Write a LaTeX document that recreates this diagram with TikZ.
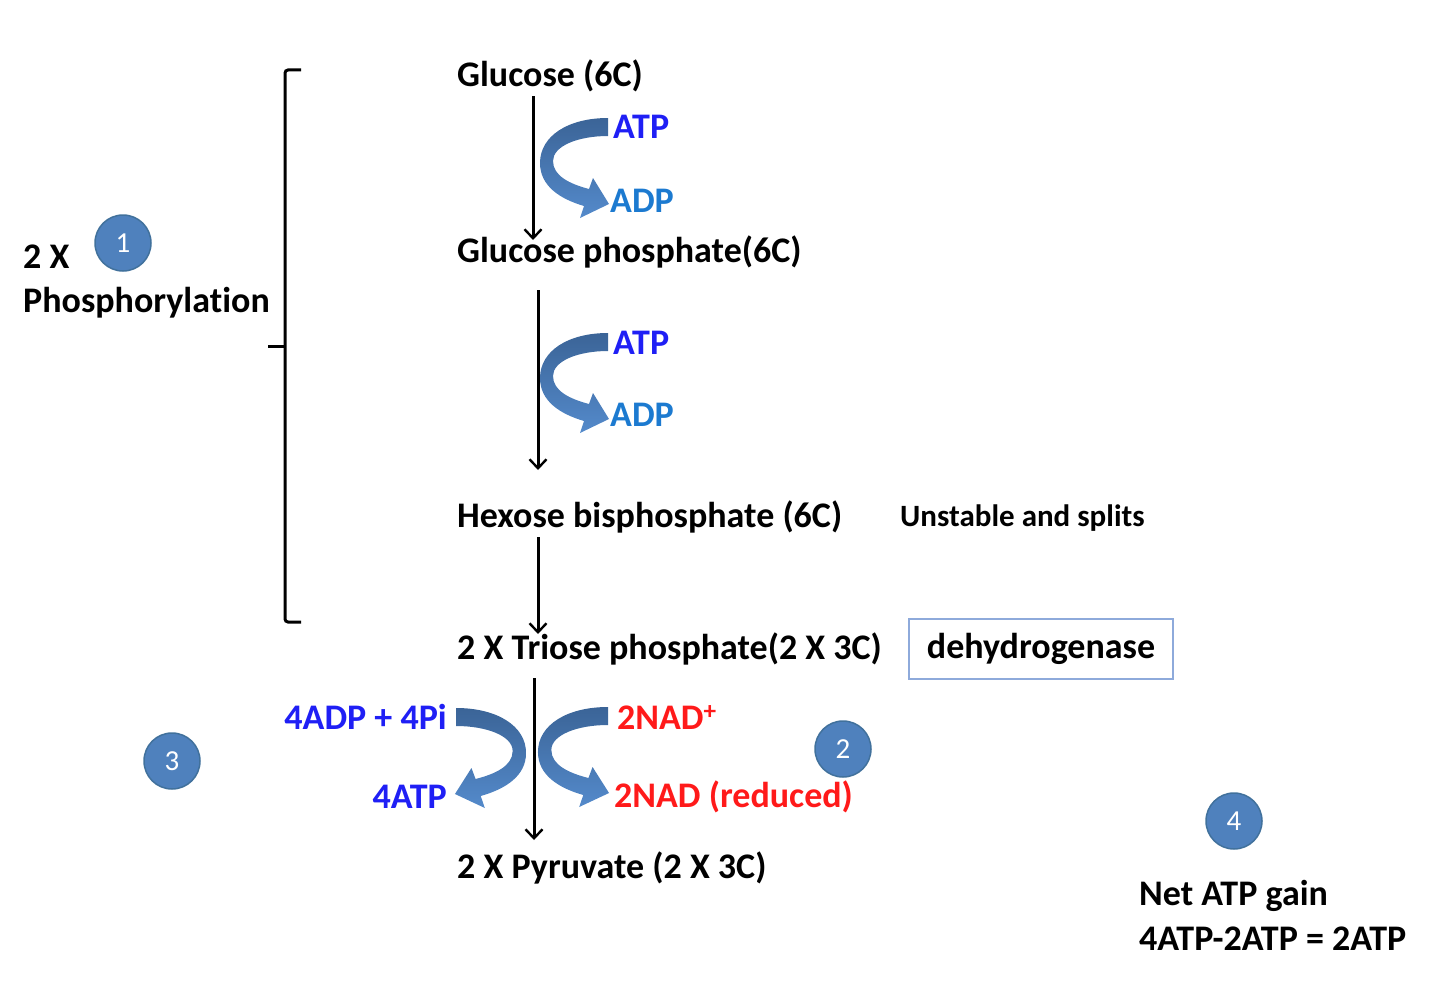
\documentclass[tikz,border=0pt]{standalone}
\usepackage{fontspec}
\setmainfont[Ligatures=NoCommon]{Carlito}
\usetikzlibrary{arrows.meta}
\definecolor{atpblue}{HTML}{1F1FF5}
\definecolor{adpblue}{HTML}{1C7AD0}
\definecolor{nadred}{HTML}{FF1A1A}
\definecolor{circfill}{HTML}{4F81BD}
\definecolor{circline}{HTML}{41719C}
\definecolor{arrtop}{HTML}{3B6497}
\definecolor{arrbot}{HTML}{548ACB}
\definecolor{boxline}{HTML}{8EAADB}
\newcommand{\mycurvearrow}{%
  \shade[top color=arrtop,bottom color=arrbot]
    (0,-10) .. controls (-40,-10) and (-68,8) .. (-68,35)
    .. controls (-68,58) and (-48,71) .. (-24,78)
    -- (-28,90) -- (1,76) -- (-15,50) -- (-19,61)
    .. controls (-38,56) and (-55,48) .. (-55,33)
    .. controls (-55,18) and (-30,8) .. (0,8) -- cycle;}
\tikzset{
  main/.style={font=\bfseries\fontsize{36}{40}\selectfont, inner sep=0pt, anchor=base west},
  small/.style={font=\bfseries\fontsize{31}{36}\selectfont, inner sep=0pt, anchor=base west},
  numcirc/.style={circle, fill=circfill, draw=circline, line width=1.5pt, minimum size=56pt, inner sep=0pt, text=white, font=\fontsize{29}{32}\selectfont},
  flow/.style={draw=black, line width=3pt, -{Straight Barb[length=9pt,width=17pt,line width=2.4pt]}},
}
\begin{document}
\begin{tikzpicture}[x=1pt,y=-1pt]
\useasboundingbox (0,0) rectangle (1440,982);
% main chain
\node[main] (glu) at (457,86) {Glucose (6C)};
\node[main] (glup) at (457,262) {Glucose phosphate(6C)};
\node[main] (hex) at (457,527) {Hexose bisphosphate (6C)};
\node[main] (tri) at (457,659) {2 X Triose phosphate(2 X 3C)};
\node[main] (pyr) at (457,878) {2 X Pyruvate (2 X 3C)};
\node[small] (uns) at (900,526) {Unstable and splits};
\node[main, anchor=center, draw=boxline, line width=1.5pt, minimum width=264pt, minimum height=60pt] (deh) at (1041,649) {dehydrogenase};
% cofactors
\node[main, text=atpblue] (atp1) at (613,138) {ATP};
\node[main, text=adpblue] (adp1) at (610,212) {ADP};
\node[main, text=atpblue] (atp2) at (613,354) {ATP};
\node[main, text=adpblue] (adp2) at (610,426) {ADP};
\node[main, text=atpblue, anchor=base east] (adpin) at (447,729) {4ADP + 4Pi};
\node[main, text=atpblue, anchor=base east] (atpout) at (447,808) {4ATP};
\node[main, text=nadred] (nad) at (617,729) {2NAD\textsuperscript{+}};
\node[main, text=nadred] (nadh) at (614,807) {2NAD (reduced)};
% left labels
\node[main] (twox) at (23,268) {2 X};
\node[main] (phos) at (23,312) {Phosphorylation};
\node[main] (net1) at (1139,905) {Net ATP gain};
\node[main] (net2) at (1139,950) {4ATP-2ATP = 2ATP};
% circles
\node[numcirc] (c1) at (123,243) {1};
\node[numcirc] (c2) at (843,749) {2};
\node[numcirc] (c3) at (172,761) {3};
\node[numcirc] (c4) at (1234,821) {4};
% flow arrows
\coordinate (a1s) at (533,96);
\coordinate (a1e) at (533,240);
\coordinate (a2s) at (538,290);
\coordinate (a2e) at (538,470);
\coordinate (a3s) at (538,537);
\coordinate (a3e) at (538,634);
\coordinate (a4s) at (534,678);
\coordinate (a4e) at (534,840);
% curved arrows
\begin{scope}[shift={(608,128)}]\mycurvearrow\end{scope}
\begin{scope}[shift={(608,343)}]\mycurvearrow\end{scope}
\begin{scope}[shift={(608,717)},xscale=1.03]\mycurvearrow\end{scope}
\begin{scope}[shift={(456,718)},xscale=-1.03]\mycurvearrow\end{scope}
\draw[flow] (a1s) -- (a1e);
\draw[flow] (a2s) -- (a2e);
\draw[flow] (a3s) -- (a3e);
\draw[flow] (a4s) -- (a4e);
% bracket
\coordinate (bt) at (301,70);
\coordinate (bb) at (301,622);
\coordinate (bm) at (268,346);
\draw[line width=3pt, rounded corners=3pt] (bt) -- (285,70) -- (285,622) -- (bb);
\draw[line width=3pt] (bm) -- (285,346);
\end{tikzpicture}
\end{document}
